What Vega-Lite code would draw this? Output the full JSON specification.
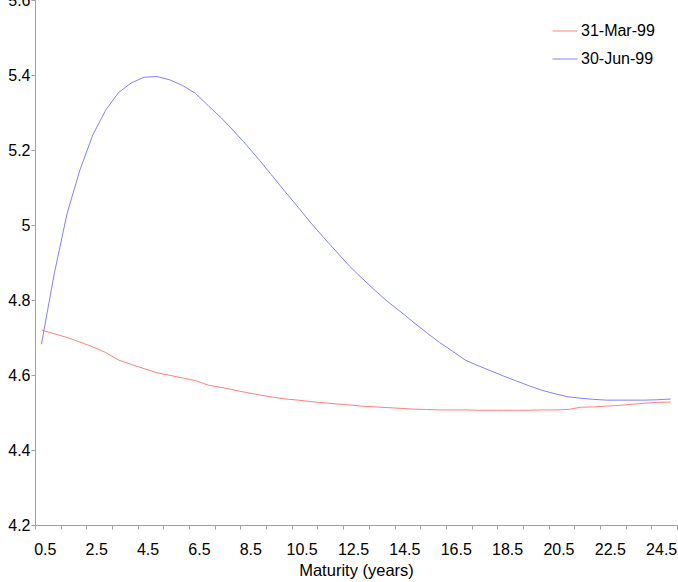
{
  "$schema": "https://vega.github.io/schema/vega-lite/v6.json",
  "autosize": {"type": "none"},
  "width": 642,
  "height": 525,
  "padding": {"left": 35, "top": 0, "right": 1, "bottom": 57},
  "background": "white",
  "config": {
    "view": {"stroke": null},
    "font": "Liberation Sans",
    "axis": {"grid": false, "domainColor": "#a0a0a0", "tickColor": "#a0a0a0", "tickSize": 4, "labelColor": "#000", "labelFontSize": 16, "labelFont": "Liberation Sans", "titleFont": "Liberation Sans", "titleFontSize": 16.5, "titleFontWeight": "normal", "titleColor": "#000"}
  },
  "datasets": {
    "curves": [
      {"m": 0.25, "date": "31-Mar-99", "y": 4.720}, {"m": 0.75, "date": "31-Mar-99", "y": 4.710},
      {"m": 1.25, "date": "31-Mar-99", "y": 4.700}, {"m": 1.75, "date": "31-Mar-99", "y": 4.688},
      {"m": 2.25, "date": "31-Mar-99", "y": 4.675}, {"m": 2.75, "date": "31-Mar-99", "y": 4.660},
      {"m": 3.25, "date": "31-Mar-99", "y": 4.640}, {"m": 3.75, "date": "31-Mar-99", "y": 4.628},
      {"m": 4.25, "date": "31-Mar-99", "y": 4.617}, {"m": 4.75, "date": "31-Mar-99", "y": 4.606},
      {"m": 5.25, "date": "31-Mar-99", "y": 4.599}, {"m": 5.75, "date": "31-Mar-99", "y": 4.592},
      {"m": 6.25, "date": "31-Mar-99", "y": 4.585}, {"m": 6.75, "date": "31-Mar-99", "y": 4.573},
      {"m": 7.25, "date": "31-Mar-99", "y": 4.567}, {"m": 7.75, "date": "31-Mar-99", "y": 4.560},
      {"m": 8.25, "date": "31-Mar-99", "y": 4.553}, {"m": 8.75, "date": "31-Mar-99", "y": 4.547},
      {"m": 9.25, "date": "31-Mar-99", "y": 4.541}, {"m": 9.75, "date": "31-Mar-99", "y": 4.536},
      {"m": 10.25, "date": "31-Mar-99", "y": 4.533}, {"m": 10.75, "date": "31-Mar-99", "y": 4.529},
      {"m": 11.25, "date": "31-Mar-99", "y": 4.526}, {"m": 11.75, "date": "31-Mar-99", "y": 4.523},
      {"m": 12.25, "date": "31-Mar-99", "y": 4.520}, {"m": 12.75, "date": "31-Mar-99", "y": 4.517},
      {"m": 13.25, "date": "31-Mar-99", "y": 4.515}, {"m": 13.75, "date": "31-Mar-99", "y": 4.513},
      {"m": 14.25, "date": "31-Mar-99", "y": 4.511}, {"m": 14.75, "date": "31-Mar-99", "y": 4.509},
      {"m": 15.25, "date": "31-Mar-99", "y": 4.508}, {"m": 15.75, "date": "31-Mar-99", "y": 4.507},
      {"m": 16.25, "date": "31-Mar-99", "y": 4.507}, {"m": 16.75, "date": "31-Mar-99", "y": 4.507},
      {"m": 17.25, "date": "31-Mar-99", "y": 4.506}, {"m": 17.75, "date": "31-Mar-99", "y": 4.506},
      {"m": 18.25, "date": "31-Mar-99", "y": 4.506}, {"m": 18.75, "date": "31-Mar-99", "y": 4.506},
      {"m": 19.25, "date": "31-Mar-99", "y": 4.506}, {"m": 19.75, "date": "31-Mar-99", "y": 4.507},
      {"m": 20.25, "date": "31-Mar-99", "y": 4.507}, {"m": 20.75, "date": "31-Mar-99", "y": 4.508},
      {"m": 21.25, "date": "31-Mar-99", "y": 4.514}, {"m": 21.75, "date": "31-Mar-99", "y": 4.515},
      {"m": 22.25, "date": "31-Mar-99", "y": 4.517}, {"m": 22.75, "date": "31-Mar-99", "y": 4.519},
      {"m": 23.25, "date": "31-Mar-99", "y": 4.522}, {"m": 23.75, "date": "31-Mar-99", "y": 4.525},
      {"m": 24.25, "date": "31-Mar-99", "y": 4.527}, {"m": 24.75, "date": "31-Mar-99", "y": 4.528},

      {"m": 0.25, "date": "30-Jun-99", "y": 4.682}, {"m": 0.75, "date": "30-Jun-99", "y": 4.870},
      {"m": 1.25, "date": "30-Jun-99", "y": 5.031}, {"m": 1.75, "date": "30-Jun-99", "y": 5.147},
      {"m": 2.25, "date": "30-Jun-99", "y": 5.240}, {"m": 2.75, "date": "30-Jun-99", "y": 5.306},
      {"m": 3.25, "date": "30-Jun-99", "y": 5.353}, {"m": 3.75, "date": "30-Jun-99", "y": 5.379},
      {"m": 4.25, "date": "30-Jun-99", "y": 5.394}, {"m": 4.75, "date": "30-Jun-99", "y": 5.396},
      {"m": 5.25, "date": "30-Jun-99", "y": 5.387}, {"m": 5.75, "date": "30-Jun-99", "y": 5.372},
      {"m": 6.25, "date": "30-Jun-99", "y": 5.351}, {"m": 6.75, "date": "30-Jun-99", "y": 5.318},
      {"m": 7.25, "date": "30-Jun-99", "y": 5.286}, {"m": 7.75, "date": "30-Jun-99", "y": 5.250},
      {"m": 8.25, "date": "30-Jun-99", "y": 5.212}, {"m": 8.75, "date": "30-Jun-99", "y": 5.172},
      {"m": 9.25, "date": "30-Jun-99", "y": 5.130}, {"m": 9.75, "date": "30-Jun-99", "y": 5.088},
      {"m": 10.25, "date": "30-Jun-99", "y": 5.047}, {"m": 10.75, "date": "30-Jun-99", "y": 5.005},
      {"m": 11.25, "date": "30-Jun-99", "y": 4.966}, {"m": 11.75, "date": "30-Jun-99", "y": 4.928},
      {"m": 12.25, "date": "30-Jun-99", "y": 4.890}, {"m": 12.75, "date": "30-Jun-99", "y": 4.857},
      {"m": 13.25, "date": "30-Jun-99", "y": 4.825}, {"m": 13.75, "date": "30-Jun-99", "y": 4.795},
      {"m": 14.25, "date": "30-Jun-99", "y": 4.768}, {"m": 14.75, "date": "30-Jun-99", "y": 4.740},
      {"m": 15.25, "date": "30-Jun-99", "y": 4.713}, {"m": 15.75, "date": "30-Jun-99", "y": 4.687},
      {"m": 16.25, "date": "30-Jun-99", "y": 4.664}, {"m": 16.75, "date": "30-Jun-99", "y": 4.640},
      {"m": 17.25, "date": "30-Jun-99", "y": 4.625}, {"m": 17.75, "date": "30-Jun-99", "y": 4.611},
      {"m": 18.25, "date": "30-Jun-99", "y": 4.597}, {"m": 18.75, "date": "30-Jun-99", "y": 4.584},
      {"m": 19.25, "date": "30-Jun-99", "y": 4.571}, {"m": 19.75, "date": "30-Jun-99", "y": 4.559},
      {"m": 20.25, "date": "30-Jun-99", "y": 4.550}, {"m": 20.75, "date": "30-Jun-99", "y": 4.542},
      {"m": 21.25, "date": "30-Jun-99", "y": 4.538}, {"m": 21.75, "date": "30-Jun-99", "y": 4.535},
      {"m": 22.25, "date": "30-Jun-99", "y": 4.533}, {"m": 22.75, "date": "30-Jun-99", "y": 4.533},
      {"m": 23.25, "date": "30-Jun-99", "y": 4.533}, {"m": 23.75, "date": "30-Jun-99", "y": 4.533},
      {"m": 24.25, "date": "30-Jun-99", "y": 4.534}, {"m": 24.75, "date": "30-Jun-99", "y": 4.536}
    ]
  },
  "data": {"name": "curves"},
  "mark": {"type": "line", "strokeWidth": 1, "clip": false},
  "encoding": {
    "x": {
      "field": "m", "type": "quantitative",
      "scale": {"domain": [0, 25], "nice": false, "zero": false},
      "axis": {
        "title": "Maturity (years)",
        "values": [0, 0.5, 1, 1.5, 2, 2.5, 3, 3.5, 4, 4.5, 5, 5.5, 6, 6.5, 7, 7.5, 8, 8.5, 9, 9.5, 10, 10.5, 11, 11.5, 12, 12.5, 13, 13.5, 14, 14.5, 15, 15.5, 16, 16.5, 17, 17.5, 18, 18.5, 19, 19.5, 20, 20.5, 21, 21.5, 22, 22.5, 23, 23.5, 24, 24.5, 25],
        "labelExpr": "datum.value % 2 == 0.5 ? format(datum.value, '.1f') : ''",
        "tickOpacity": {"condition": {"test": "datum.value % 1 != 0", "value": 0}, "value": 1},
        "labelOverlap": false,
        "labelFlush": false,
        "labelBound": false,
        "labelOffset": -3,
        "labelPadding": 12,
        "titlePadding": 5
      }
    },
    "y": {
      "field": "y", "type": "quantitative",
      "scale": {"domain": [4.2, 5.6], "nice": false, "zero": false},
      "axis": {
        "title": null,
        "values": [4.2, 4.4, 4.6, 4.8, 5.0, 5.2, 5.4, 5.6],
        "format": ".2~f",
        "labelOverlap": false,
        "labelFlush": false,
        "labelBound": false,
        "labelPadding": 1
      }
    },
    "color": {
      "field": "date", "type": "nominal",
      "sort": ["31-Mar-99", "30-Jun-99"],
      "scale": {"domain": ["31-Mar-99", "30-Jun-99"], "range": ["#ff8080", "#8080ff"]},
      "legend": {
        "title": null,
        "orient": "none",
        "legendX": 517,
        "legendY": 18,
        "symbolType": "stroke",
        "symbolSize": 625,
        "symbolStrokeWidth": 1,
        "labelFontSize": 16,
        "labelFont": "Liberation Sans",
        "labelColor": "#000",
        "labelOffset": 3,
        "rowPadding": 7,
        "padding": 0
      }
    }
  }
}
